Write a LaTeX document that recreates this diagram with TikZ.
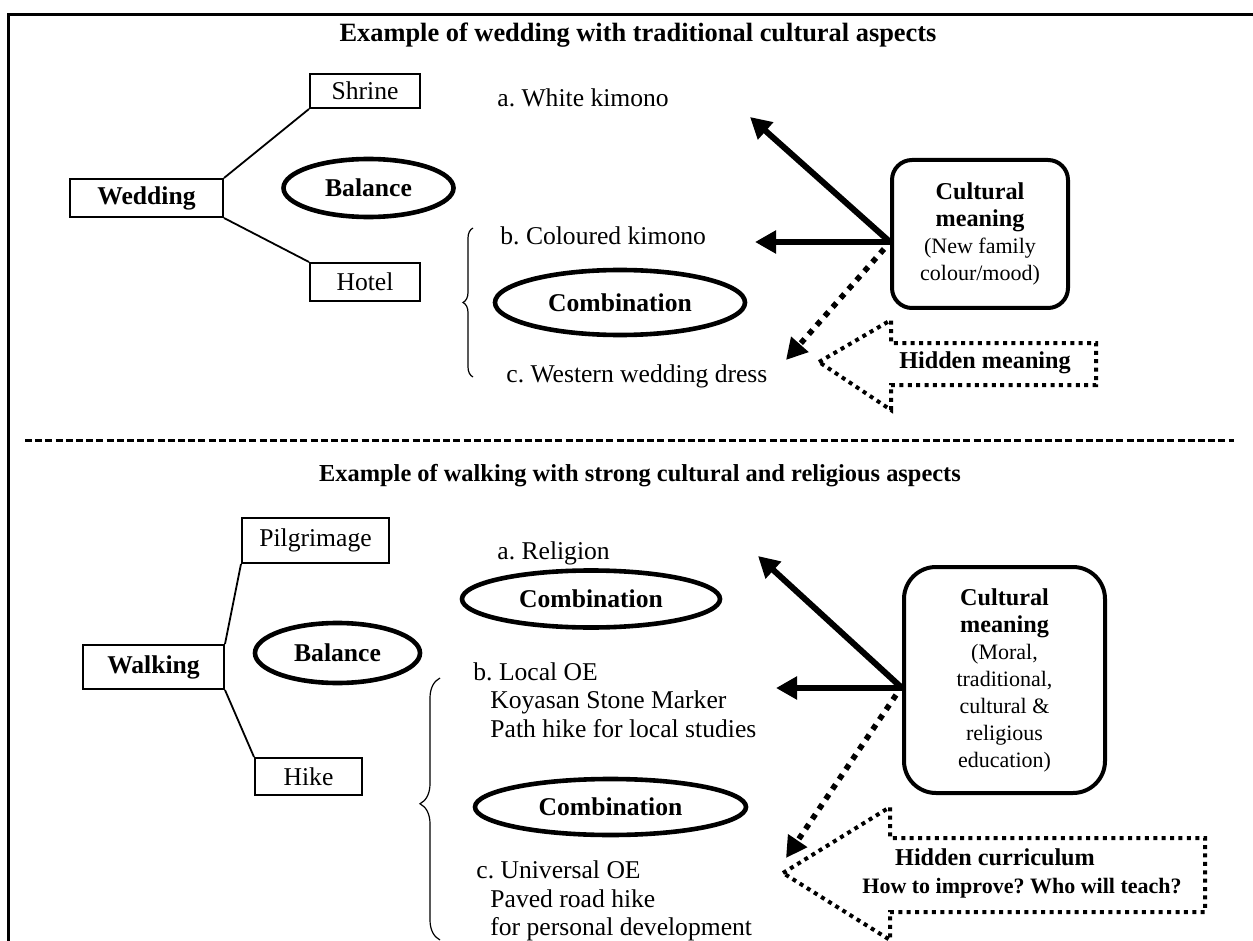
\documentclass[tikz,border=0pt]{standalone}
\usepackage{fontspec}
\setmainfont{Liberation Serif}
\frenchspacing
\usetikzlibrary{arrows.meta,shapes.geometric,decorations.pathreplacing}
\begin{document}
\begin{tikzpicture}[x=0.5pt,y=-0.5pt,
  titlefont/.style={font=\fontsize{13.2}{15}\selectfont\bfseries, inner sep=0pt, anchor=base},
  lbl/.style={font=\fontsize{12.8}{15}\selectfont, inner sep=0pt, anchor=base west},
  sqbox/.style={draw, line width=1pt, inner sep=0pt, font=\fontsize{12.8}{15}\selectfont},
  bsqbox/.style={sqbox, font=\fontsize{12.8}{15}\selectfont\bfseries},
  oval/.style={ellipse, draw, line width=2.3pt, inner sep=0pt, font=\fontsize{12.8}{15}\selectfont\bfseries},
  conn/.style={line width=0.9pt},
  cmbox/.style={draw, line width=2pt, align=center, inner sep=0pt, font=\fontsize{11}{13.5}\selectfont},
  fatarrow/.style={line width=3pt, -{Triangle[length=10.5pt,width=11pt]}},
  dotarrow/.style={line width=2.8pt, dash pattern=on 2.8pt off 3.2pt, -{Triangle[length=10.5pt,width=11pt]}},
  hiddenshape/.style={line width=2pt, dash pattern=on 2pt off 2.2pt},
  bracestyle/.style={line width=0.6pt, decorate},
  hidlbl/.style={font=\fontsize{12.1}{14}\selectfont\bfseries, inner sep=0pt, anchor=base}
]
\useasboundingbox (0,0) rectangle (1253,941);

% frame
\draw[line width=1.5pt] (8,941) -- (8,15) -- (1253,15);
% separator
\draw[line width=1.5pt, dash pattern=on 3.5pt off 1.6pt] (25,440) -- (1234,440);

% ---------------- top section ----------------
\node[titlefont] (title1) at (638,42) {Example of wedding with traditional cultural aspects};

\node[bsqbox, minimum width=76.5pt, minimum height=19pt] (wed) at (146.5,198) {Wedding};
\node[sqbox, minimum width=55pt, minimum height=17pt] (shr) at (365,91) {Shrine};
\node[sqbox, minimum width=55pt, minimum height=19pt] (hot) at (365,282) {Hotel};
\draw[conn] (wed.north east) -- (shr.south west);
\draw[conn] (wed.south east) -- (hot.north west);

\node[oval, minimum width=85pt, minimum height=29pt] (bal1) at (368.5,188) {Balance};
\node[oval, minimum width=125pt, minimum height=32.5pt] (comb1) at (620,302.5) {Combination};

\node[lbl] (a1) at (497,107) {a. White kimono};
\node[lbl] (b1) at (500,245) {b. Coloured kimono};
\node[lbl] (c1) at (506,382) {c. Western wedding dress};

\coordinate (br1s) at (473,377);
\coordinate (br1e) at (473,228);
\draw[bracestyle, decoration={brace, amplitude=5pt}] (br1s) -- (br1e);

\node[cmbox, minimum width=88pt, minimum height=74pt, rounded corners=10pt] (cm1) at (980,234)
  {{\fontsize{12.1}{13.5}\selectfont\bfseries Cultural}\\{\fontsize{12.1}{13.5}\selectfont\bfseries meaning}\\(New family\\colour/mood)};

\coordinate (o1) at (890,242);
\coordinate (t1a) at (750,117);
\coordinate (t1b) at (755,242);
\coordinate (d1s) at (884,249);
\coordinate (d1e) at (786,360);
\draw[fatarrow] (o1) -- (t1a);
\draw[fatarrow] (o1) -- (t1b);
\draw[dotarrow] (d1s) -- (d1e);

\coordinate (h1tip) at (819,362);
\draw[hiddenshape] (h1tip) -- (891,320) -- (891,343) -- (1096,343) -- (1096,385) -- (891,385) -- (891,410) -- cycle;
\node[hidlbl] (hid1) at (985,368) {Hidden meaning};

% ---------------- bottom section ----------------
\node[titlefont, font=\fontsize{12.2}{15}\selectfont\bfseries] (title2) at (640,481) {Example of walking with strong cultural and religious aspects};

\node[bsqbox, minimum width=70.5pt, minimum height=22pt] (walk) at (153.5,667) {Walking};
\node[sqbox, minimum width=73.5pt, minimum height=22.5pt] (pil) at (315.5,540.5) {Pilgrimage};
\node[sqbox, minimum width=53.5pt, minimum height=18.5pt] (hike) at (308.5,776.5) {Hike};
\draw[conn] (walk.north east) -- (pil.south west);
\draw[conn] (walk.south east) -- (hike.north west);

\node[oval, minimum width=82.5pt, minimum height=30pt] (bal2) at (337.5,653) {Balance};
\node[oval, minimum width=129pt, minimum height=28.5pt] (comb2) at (591,599) {Combination};
\node[oval, minimum width=135.5pt, minimum height=28pt] (comb3) at (610.5,807) {Combination};

\node[lbl] (a2) at (497,559) {a. Religion};
\node[lbl] (b2) at (473,680) {b. Local OE};
\node[lbl] (b2l2) at (490,708) {Koyasan Stone Marker};
\node[lbl] (b2l3) at (490,737) {Path hike for local studies};
\node[lbl] (c2) at (476,878) {c. Universal OE};
\node[lbl] (c2l2) at (490,907) {Paved road hike};
\node[lbl] (c2l3) at (490,935) {for personal development};

\coordinate (br2s) at (440,940);
\coordinate (br2e) at (440,678);
\draw[bracestyle, decoration={brace, amplitude=10pt, aspect=0.52}] (br2s) -- (br2e);

\node[cmbox, minimum width=100.5pt, minimum height=113pt, rounded corners=16pt] (cm2) at (1004.5,680)
  {{\fontsize{12.1}{13.5}\selectfont\bfseries Cultural}\\{\fontsize{12.1}{13.5}\selectfont\bfseries meaning}\\(Moral,\\traditional,\\cultural \&\\religious\\education)};

\coordinate (o2) at (902,688);
\coordinate (t2a) at (758,556);
\coordinate (t2b) at (776,688);
\coordinate (d2s) at (896,695);
\coordinate (d2e) at (786,858);
\draw[fatarrow] (o2) -- (t2a);
\draw[fatarrow] (o2) -- (t2b);
\draw[dotarrow] (d2s) -- (d2e);

\coordinate (h2tip) at (783,873);
\draw[hiddenshape] (h2tip) -- (890,807) -- (890,838) -- (1205,838) -- (1205,912) -- (890,912) -- (890,940) -- cycle;
\node[hidlbl] (hid2) at (995,865) {Hidden curriculum};
\node[hidlbl, font=\fontsize{11}{13}\selectfont\bfseries] (hid2b) at (1022,893) {How to improve? Who will teach?};
\end{tikzpicture}
\end{document}
